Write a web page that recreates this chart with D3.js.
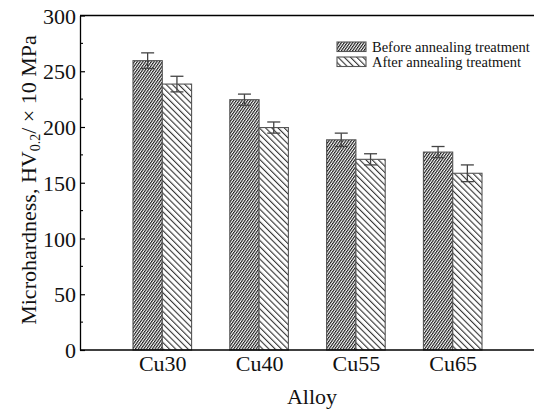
<!DOCTYPE html>
<html><head><meta charset="utf-8">
<script src="https://cdn.jsdelivr.net/npm/d3@7"></script>
<style>body{margin:0;background:#fff}svg{display:block}</style>
</head><body><svg id="c" width="534" height="412"></svg>
<script>
const categories = ["Cu30","Cu40","Cu55","Cu65"];
const seriesNames = ["Before annealing treatment","After annealing treatment"];
const beforeValues = [259.5, 224.5, 188.5, 177.5];
const beforeErrors = [7, 5, 6, 5];
const afterValues = [238.5, 199.5, 171, 158.5];
const afterErrors = [7, 5, 5, 7.5];
const yTicks = [0,50,100,150,200,250,300];

const svg = d3.select("#c");
const font = "'Liberation Serif','Times New Roman',serif";
const L=80, R=535, T=15.5, B=350;
const x = d3.scalePoint().domain(categories).range([L,R]).padding(0.85);
const y = d3.scaleLinear().domain([0,300]).range([B,T]);
const bw = 29.3;

const defs = svg.append("defs");
const w1 = 2.3;
const p1 = defs.append("pattern").attr("id","hBefore").attr("patternUnits","userSpaceOnUse")
  .attr("width",w1).attr("height",w1).attr("patternTransform","rotate(35)");
p1.append("rect").attr("width",w1).attr("height",w1).attr("fill","#fff");
p1.append("rect").attr("width",1.15).attr("height",w1).attr("fill","#1a1a1a");
const w2 = 4.4;
const p2 = defs.append("pattern").attr("id","hAfter").attr("patternUnits","userSpaceOnUse")
  .attr("width",w2).attr("height",w2).attr("patternTransform","rotate(-45)");
p2.append("rect").attr("width",w2).attr("height",w2).attr("fill","#fff");
p2.append("rect").attr("width",1.1).attr("height",w2).attr("fill","#333");

const series = [
  {name:seriesNames[0], vals:beforeValues, errs:beforeErrors, fill:"url(#hBefore)", off:-bw},
  {name:seriesNames[1], vals:afterValues, errs:afterErrors, fill:"url(#hAfter)", off:0}
];

series.forEach(s=>{
  const g = svg.append("g");
  g.selectAll("rect").data(categories).join("rect")
    .attr("x",(d)=>x(d)+s.off).attr("width",bw)
    .attr("y",(d,i)=>y(s.vals[i])).attr("height",(d,i)=>y(0)-y(s.vals[i]))
    .attr("fill",s.fill).attr("stroke","#555").attr("stroke-width",1.1);
});
series.forEach(s=>{
  const g = svg.append("g").attr("stroke","#444").attr("stroke-width",1.3).attr("fill","none");
  categories.forEach((c,i)=>{
    const cx = x(c)+s.off+bw/2;
    const t = y(s.vals[i]+s.errs[i]), b = y(s.vals[i]-s.errs[i]);
    g.append("line").attr("x1",cx).attr("x2",cx).attr("y1",t).attr("y2",b);
    g.append("line").attr("x1",cx-6.5).attr("x2",cx+6.5).attr("y1",t).attr("y2",t);
    g.append("line").attr("x1",cx-6.5).attr("x2",cx+6.5).attr("y1",b).attr("y2",b);
  });
});

// frame
svg.append("line").attr("x1",L).attr("x2",R).attr("y1",T).attr("y2",T).attr("stroke","#000").attr("stroke-width",1.3);
svg.append("line").attr("x1",L).attr("x2",R).attr("y1",B).attr("y2",B).attr("stroke","#000").attr("stroke-width",1.3);

// left axis
const yAxis = d3.axisLeft(y).tickValues(yTicks).tickSizeInner(-5).tickSizeOuter(0).tickPadding(4);
const ga = svg.append("g").attr("transform",`translate(${L},0)`).call(yAxis);
ga.select(".domain").attr("stroke","#000").attr("stroke-width",1.3);
ga.selectAll(".tick line").attr("stroke","#000").attr("stroke-width",1.2);
ga.selectAll(".tick text").attr("font-family",font).attr("font-size",22).attr("fill","#111").attr("dy","0.35em");
const minor = d3.range(25,300,50);
svg.append("g").selectAll("line").data(minor).join("line")
  .attr("x1",L).attr("x2",L+3).attr("y1",d=>y(d)).attr("y2",d=>y(d)).attr("stroke","#000").attr("stroke-width",1.1);

// bottom labels
const xAxis = d3.axisBottom(x).tickSize(0).tickPadding(0);
const gx = svg.append("g").attr("transform",`translate(0,${B})`).call(xAxis);
gx.select(".domain").remove();
gx.selectAll(".tick text").attr("font-family",font).attr("font-size",22).attr("fill","#111")
  .attr("dy",null).attr("y",21);

svg.append("text").attr("x",312).attr("y",404).attr("text-anchor","middle")
  .attr("font-family",font).attr("font-size",22).attr("fill","#111").text("Alloy");

const yt = svg.append("text").attr("transform","translate(36,180) rotate(-90)").attr("text-anchor","middle")
  .attr("font-family",font).attr("font-size",22).attr("fill","#111");
yt.append("tspan").text("Microhardness, HV");
yt.append("tspan").attr("font-size",14).attr("dy",4).text("0.2");
yt.append("tspan").attr("dy",-4).text("/ × 10 MPa");

// legend
const lg = svg.append("g");
series.forEach((s,i)=>{
  const yy = 42 + i*15;
  lg.append("rect").attr("x",337).attr("y",yy).attr("width",29).attr("height",9.5)
    .attr("fill",s.fill).attr("stroke","#555").attr("stroke-width",1.1);
  lg.append("text").attr("x",372).attr("y",yy+9.5).attr("font-family",font).attr("font-size",14.5)
    .attr("fill","#111").text(s.name);
});
</script></body></html>
